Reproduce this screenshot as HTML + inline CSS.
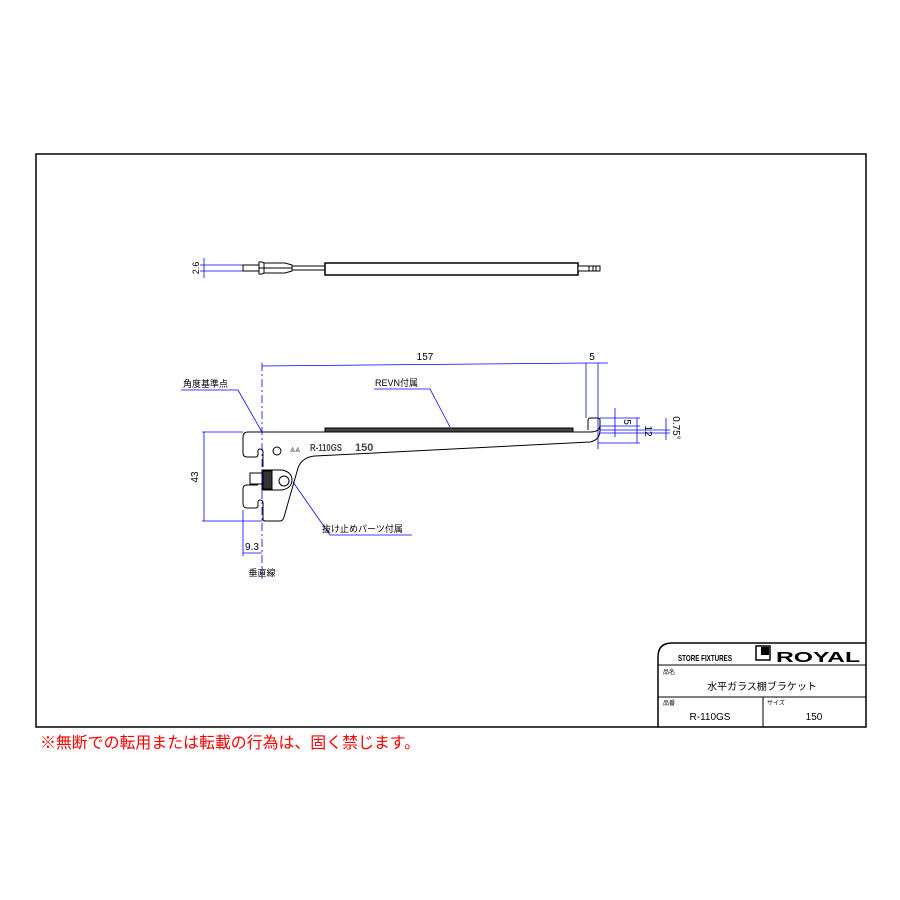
<!DOCTYPE html>
<html><head><meta charset="utf-8"><style>
html,body{margin:0;padding:0;background:#fff;width:900px;height:900px;overflow:hidden}
svg{display:block}
text{font-family:"Liberation Sans","Noto Sans CJK JP",sans-serif}
</style></head><body>
<svg width="900" height="900" viewBox="0 0 900 900" xmlns="http://www.w3.org/2000/svg">
<rect x="36" y="154" width="830" height="573" fill="none" stroke="#000" stroke-width="1.5"/>
<path d="M658,727 V657 Q658,643 672,643 H866" fill="none" stroke="#000" stroke-width="1.5"/>
<line x1="658" y1="665" x2="866" y2="665" stroke="#000"/>
<line x1="658" y1="697" x2="866" y2="697" stroke="#000"/>
<line x1="763" y1="697" x2="763" y2="727" stroke="#000"/>
<text x="678" y="661" font-size="8.5" font-weight="bold" textLength="54" lengthAdjust="spacingAndGlyphs">STORE FIXTURES</text>
<rect x="756" y="646" width="14" height="14" fill="none" stroke="#000" stroke-width="1.5"/>
<rect x="761" y="647" width="8" height="8" fill="#000"/>
<text x="776" y="662" font-size="15" font-weight="bold" textLength="84" lengthAdjust="spacingAndGlyphs">ROYAL</text>
<text x="663" y="674" font-size="6">品名</text>
<text x="762" y="690" font-size="10" text-anchor="middle">水平ガラス棚ブラケット</text>
<text x="663" y="705" font-size="6">品番</text>
<text x="767" y="705" font-size="6">サイズ</text>
<text x="710" y="720" font-size="10" text-anchor="middle">R-110GS</text>
<text x="814" y="720" font-size="10" text-anchor="middle">150</text>
<text x="40" y="748" font-size="16" fill="#f00" textLength="380" lengthAdjust="spacingAndGlyphs">※無断での転用または転載の行為は、固く禁じます。</text>

<g stroke="#000" fill="#fff" stroke-width="1">
<rect x="243" y="265" width="16" height="6"/>
<path d="M259,262 L262,262 L264,263 L285,263 L292,265 L292,271 L285,273 L264,273 L262,274 L259,274 Z"/>
<line x1="264" y1="263" x2="264" y2="273"/>
<line x1="259" y1="268" x2="292" y2="268"/>
<rect x="292" y="266" width="33" height="4"/>
<rect x="325" y="263" width="253" height="12" stroke-width="1.5"/>
<rect x="578" y="266" width="22" height="5"/>
<line x1="589" y1="266" x2="589" y2="271"/><line x1="593" y1="266" x2="593" y2="271"/><line x1="596" y1="266" x2="596" y2="271"/>
</g>
<g stroke="#00f" stroke-width="0.8" fill="none">
<line x1="200" y1="265" x2="243" y2="265"/><line x1="200" y1="271" x2="243" y2="271"/>
<line x1="204" y1="258" x2="204" y2="278"/>
</g>
<text x="199" y="268" font-size="9" text-anchor="middle" transform="rotate(-90 199 268)">2.6</text>

<g stroke="#000" fill="none" stroke-width="1">
<path d="M248,432 H590 Q600,432 600,425 V420 Q600,418 597,418 H590 Q588,418 588,421 V430"/>
<path d="M248,432 Q243,432 243,437 V453 Q243,457 247,457 H256 Q258,457 258,454 V451 Q258,449 260,449 Q263,449 263,452 V458"/>
<path d="M263,458 V467"/>
<path d="M258,485 H247 Q243,485 243,489 V503 Q243,508 247,508 H256 Q258,508 258,505 V502 Q258,500 260,500 Q263,500 263,503 V519 Q263,521 266,521 H280 Q283,521 284,517 L298,468 Q302,457 315,456 L590,442 Q600,440 600,430 V425"/>
<circle cx="277" cy="451" r="4"/>
<rect x="250" y="473" width="12" height="11"/>
<path d="M262,470 H282 Q292,472 292,480 Q292,488 282,490 H262 Z" fill="#fff"/>
<rect x="263" y="471" width="9" height="18" fill="#333"/>
<circle cx="284" cy="481" r="5" fill="#fff"/>
<path d="M325,428 H573 V432 H325 Z" fill="#444"/>
</g>
<text x="290" y="452" font-size="9" fill="#555">⩓⩓</text>
<text x="310" y="451" font-size="10" fill="#444" font-weight="bold" textLength="32" lengthAdjust="spacingAndGlyphs">R-110GS</text>
<text x="355" y="451" font-size="11" fill="#444" font-weight="bold">150</text>

<g stroke="#00f" stroke-width="0.8" fill="none">
<line x1="262" y1="363" x2="262" y2="580" stroke-dasharray="8,3,2,3"/>
<line x1="262" y1="366" x2="586" y2="363"/>
<line x1="586" y1="363" x2="586" y2="418"/>
<line x1="598" y1="363" x2="598" y2="449"/>
<line x1="586" y1="363" x2="608" y2="363"/>
<line x1="202" y1="432" x2="243" y2="432"/>
<line x1="202" y1="521" x2="263" y2="521"/>
<line x1="204" y1="432" x2="204" y2="521"/>
<line x1="243" y1="510" x2="243" y2="556"/>
<line x1="243" y1="553" x2="262" y2="553"/>
<path d="M181,390 H238 L262,432"/>
<path d="M374,389 H430 L450,427"/>
<path d="M293,482 L330,535 H412"/>
<line x1="600" y1="418" x2="640" y2="418"/>
<line x1="600" y1="426" x2="640" y2="426"/>
<line x1="600" y1="430" x2="670" y2="430"/>
<line x1="600" y1="433" x2="670" y2="433"/>
<line x1="598" y1="443" x2="640" y2="443"/>
<line x1="615" y1="408" x2="615" y2="437"/>
<line x1="637" y1="418" x2="637" y2="443"/>
<line x1="666" y1="418" x2="666" y2="440"/>
</g>
<text x="425" y="360" font-size="10" text-anchor="middle">157</text>
<text x="592" y="360" font-size="10" text-anchor="middle">5</text>
<text x="183" y="387" font-size="9">角度基準点</text>
<text x="375" y="386" font-size="9">REVN付属</text>
<text x="322" y="532" font-size="9">抜け止めパーツ付属</text>
<text x="252" y="550" font-size="10" text-anchor="middle">9.3</text>
<text x="262" y="576" font-size="9" text-anchor="middle">垂直線</text>
<text x="198" y="477" font-size="10" text-anchor="middle" transform="rotate(-90 198 477)">43</text>
<text x="624" y="422" font-size="10" text-anchor="middle" transform="rotate(90 624 422)">5</text>
<text x="645" y="431" font-size="10" text-anchor="middle" transform="rotate(90 645 431)">12</text>
<text x="673" y="428" font-size="10" text-anchor="middle" transform="rotate(90 673 428)">0.75°</text>
</svg>
</body></html>
